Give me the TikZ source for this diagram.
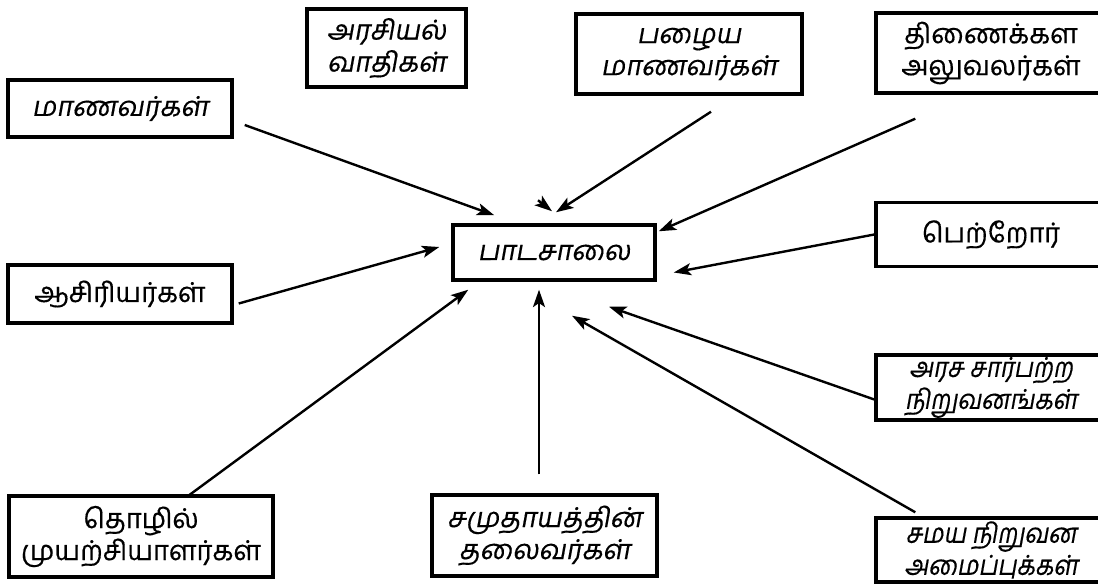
\documentclass[tikz,border=0pt]{standalone}
\usepackage{fontspec}
\usetikzlibrary{arrows.meta,calc}
\newfontfamily\tasl[Script=Tamil,FakeSlant=0.18,FakeBold=0.4]{Hind Madurai}
\newfontfamily\tasn[Script=Tamil,FakeSlant=0.18,FakeBold=0.4,FakeStretch=0.88]{Hind Madurai}
\newfontfamily\taup[Script=Tamil,FakeBold=0.4]{Hind Madurai}
\tikzset{
  box/.style={draw=black,line width=2.6pt,rectangle,inner sep=0pt,align=center,fill=white},
  sl/.style={font=\tasl\fontsize{20.5}{24}\selectfont},
  sn/.style={font=\tasn\fontsize{20.5}{24}\selectfont},
  up/.style={font=\taup\fontsize{20.5}{24}\selectfont},
  arr/.style={line width=1.8pt,-{Stealth[length=13pt,width=9pt,inset=3pt]}},
}
\begin{document}
\begin{tikzpicture}[x=0.75pt,y=-0.75pt]
\useasboundingbox (0,0) rectangle (1098,584);
\clip (0,0) rectangle (1098,584);
% nodes
\node[box,sl,minimum width=224*0.75pt,minimum height=57*0.75pt] (mana) at (120,108.5) {மாணவர்கள்};
\node[box,sl,minimum width=159*0.75pt,minimum height=78*0.75pt] (arasiyal) at (386.5,48) {அரசியல்\\வாதிகள்};
\node[box,sl,minimum width=226*0.75pt,minimum height=80*0.75pt] (pazhaiya) at (689,54) {பழைய\\மாணவர்கள்};
\node[box,up,minimum width=230*0.75pt,minimum height=80*0.75pt] (thinai) at (991,53) {திணைக்கள\\அலுவலர்கள்};
\node[box,sl,minimum width=202*0.75pt,minimum height=55*0.75pt] (school) at (554,252.5) {பாடசாலை};
\node[box,up,minimum width=224*0.75pt,minimum height=58*0.75pt] (asiriyar) at (120,294) {ஆசிரியர்கள்};
\node[box,up,minimum width=230*0.75pt,minimum height=64*0.75pt] (petror) at (991,234.5) {பெற்றோர்};
\node[box,sn,minimum width=230*0.75pt,minimum height=65*0.75pt] (arasa) at (991,387.5) {அரச சார்பற்ற\\நிறுவனங்கள்};
\node[box,sn,minimum width=230*0.75pt,minimum height=64*0.75pt] (samaya) at (991,550) {சமய நிறுவன\\அமைப்புக்கள்};
\node[box,up,minimum width=264*0.75pt,minimum height=81*0.75pt] (thozhil) at (141,536.5) {தொழில்\\முயற்சியாளர்கள்};
\node[box,sl,minimum width=225*0.75pt,minimum height=81*0.75pt] (samudhaya) at (544.5,535.5) {சமுதாயத்தின்\\தலைவர்கள்};
% stray arrowhead
\coordinate (strayA) at ($(school.north)+(-16,-23)$);
% connectors
\draw[arr] ($(mana.east)+(11,16.5)$) -- ($(school.north west)+(43,-8)$);
\draw[arr] ($(pazhaiya.south)+(22,16)$) -- ($(school.north)+(2,-11)$);
\draw[arr] (strayA) -- ($(school.north)+(-2,-12)$);
\draw[arr] ($(thinai.south west)+(41,24)$) -- ($(school.north east)+(2,8)$);
\draw[arr] (petror.west) -- ($(school.east)+(17,20)$);
\draw[arr] ($(arasa.west)+(0,12)$) -- ($(school.south)+(55,25)$);
\draw[arr] ($(samaya.north west)+(41,-4)$) -- ($(school.south)+(18,34)$);
\draw[arr] ($(samudhaya.north)+(-5.5,-19)$) -- ($(school.south)+(-15,8)$);
\draw[arr] ($(thozhil.north)+(48,1)$) -- ($(school.south west)+(17,8)$);
\draw[arr] ($(asiriyar.east)+(5,9.5)$) -- ($(school.west)+(-12,-5.5)$);
\end{tikzpicture}
\end{document}
